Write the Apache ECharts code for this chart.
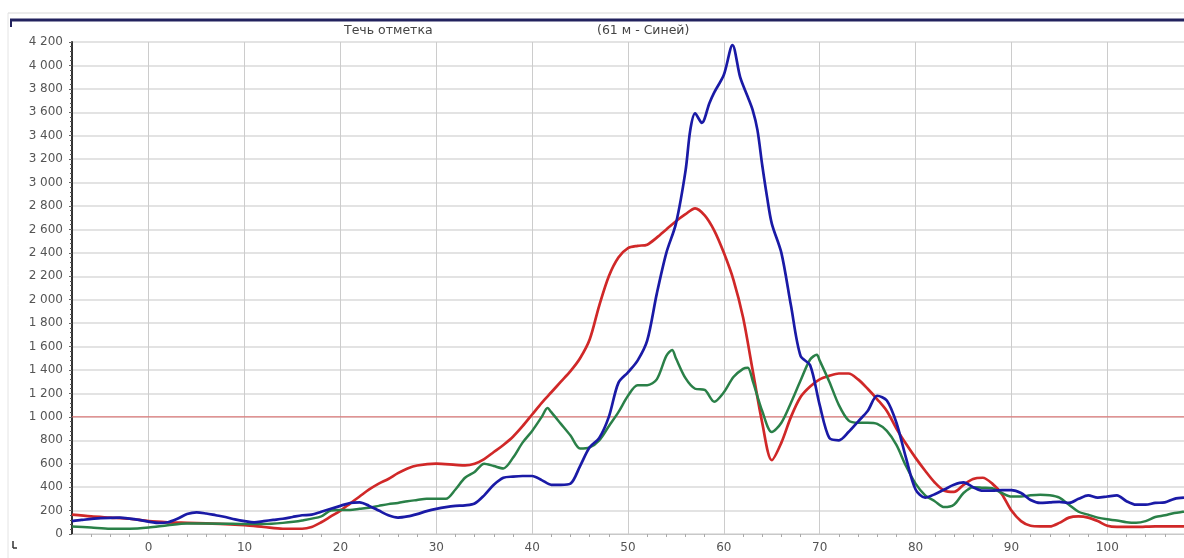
<!DOCTYPE html>
<html>
<head>
<meta charset="utf-8">
<script src="https://cdn.jsdelivr.net/npm/echarts@6/dist/echarts.min.js"></script>
<style>html,body{margin:0;padding:0;background:#fff}#c{width:1184px;height:558px}</style>
</head>
<body>
<div id="c"></div>
<script>
const titleLeft = 'Течь отметка';
const titleRight = '(61 м - Синей)';
const thresholdValue = 1000;
const xRange = [-8, 108];

const redX = [-8,-6,-4,-2,0,2,4,6,8,10,12,14,16,17,18,19,20,21,22,23,24,25,26,27,28,30,32,33,34,35,36,37,38,39,40,41,42,43,44,45,46,47,48,49,50,51,52,53,54,55,56,57,58,59,60,61,62,63,64,65,66,67,68,69,70,71,72,73,74,75,76,77,78,79,80,81,82,83,84,85,86,87,88,89,90,91,92,93,94,95,96,97,98,99,100,101,103,105,108];
const redY = [165,150,140,130,110,100,95,90,85,75,60,45,45,60,100,150,200,260,320,380,430,470,520,560,585,600,590,585,600,640,700,760,830,920,1020,1120,1210,1300,1390,1500,1660,1950,2200,2360,2440,2460,2470,2530,2600,2670,2730,2780,2720,2590,2400,2170,1850,1400,950,630,780,1000,1170,1260,1320,1350,1370,1370,1320,1240,1150,1050,900,770,650,540,440,370,360,420,470,480,430,340,200,110,70,65,65,95,140,150,140,110,70,60,60,65,65];

const blueX = [-8,-7,-5,-3,-1,1,2,3,4,5,6,7,8,9,10,11,12,13,14,15,16,17,18,19,20,21,22,23,24,25,26,27,28,29,30,31,32,33,34,35,36,37,38,39,40,41,42,43,44,45,46,47,48,49,50,51,52,53,54,55,56,56.5,57,57.7,58.5,59,60,60.9,61.7,62.5,63,63.5,64,64.5,65,66,67,68,69,70,71,72,73,74,75,76,77,78,79,80,81,82,83,84,85,86,87,88,89,90,91,92,93,94,95,96,97,98,99,100,101,102,103,104,105,106,107,108];
const blueY = [110,120,135,140,120,95,100,130,170,185,175,160,145,125,110,100,110,120,130,145,160,165,190,215,240,265,270,240,200,160,140,150,170,195,215,230,240,245,260,330,420,480,490,495,495,460,420,420,430,580,740,820,1000,1290,1380,1480,1650,2050,2400,2650,3100,3450,3590,3510,3680,3770,3920,4174,3900,3730,3620,3450,3150,2880,2650,2400,1950,1520,1440,1100,820,800,870,960,1050,1180,1140,950,650,380,310,340,380,420,440,400,370,370,375,375,350,290,265,270,275,265,300,330,310,320,330,280,250,250,265,270,300,310];

const greenX = [-8,-6,-4,-2,0,2,4,6,8,10,12,14,16,18,19,20,21,22,23,24,25,26,27,28,29,30,31,32,33,34,35,36,37,38,39,40,41,41.6,42,43,44,45,46,47,48,49,50,51,52,53,54,54.6,55,56,57,58,59,60,61,62,62.5,63,64,65,66,67,68,69,69.7,70,71,72,73,74,75,76,77,78,79,80,81,82,83,84,85,86,87,88,89,90,91,92,93,94,95,96,97,98,99,100,101,102,103,104,105,106,107,108];
const greenY = [65,55,45,45,55,75,90,90,88,85,85,95,115,150,200,205,205,215,225,240,255,265,280,290,300,300,300,380,480,530,600,580,560,650,780,880,1000,1075,1040,940,840,730,740,800,920,1040,1180,1270,1270,1320,1520,1570,1500,1330,1240,1230,1130,1210,1340,1410,1420,1310,1050,870,950,1120,1310,1490,1530,1480,1300,1100,970,950,950,940,880,760,580,430,330,280,230,250,350,400,395,390,350,320,320,330,335,330,310,250,190,165,140,125,115,100,95,110,145,160,180,190];

function pairs(xs, ys) { return xs.map((x, i) => [x, ys[i]]); }
function fmt(v) { return String(v).replace(/\B(?=(\d{3})+(?!\d))/g, ' '); }

const chart = echarts.init(document.getElementById('c'), null, { renderer: 'canvas' });
chart.setOption({
  animation: false,
  backgroundColor: '#ffffff',
  textStyle: { fontFamily: 'DejaVu Sans' },
  grid: { left: 72, right: 0, top: 42, bottom: 24, containLabel: false },
  graphic: [
    { type: 'line', shape: { x1: 8, y1: 13, x2: 1184, y2: 13 }, style: { stroke: '#d8d8d8', lineWidth: 1 }, silent: true },
    { type: 'line', shape: { x1: 8, y1: 13, x2: 8, y2: 558 }, style: { stroke: '#e4e4e4', lineWidth: 1 }, silent: true },
    { type: 'line', shape: { x1: 10, y1: 20, x2: 1184, y2: 20 }, style: { stroke: '#22225e', lineWidth: 3 }, silent: true },
    { type: 'line', shape: { x1: 11, y1: 20, x2: 11, y2: 27 }, style: { stroke: '#22225e', lineWidth: 2 }, silent: true },
    { type: 'line', shape: { x1: 13, y1: 541, x2: 13, y2: 548 }, style: { stroke: '#333', lineWidth: 1.5 }, silent: true },
    { type: 'line', shape: { x1: 13, y1: 548, x2: 17, y2: 548 }, style: { stroke: '#333', lineWidth: 1.5 }, silent: true },
    { type: 'text', left: 344, top: 24, style: { text: titleLeft, font: '12.5px "DejaVu Sans"', fill: '#444' }, silent: true },
    { type: 'text', left: 597, top: 24, style: { text: titleRight, font: '12.5px "DejaVu Sans"', fill: '#444' }, silent: true }
  ],
  xAxis: {
    type: 'value',
    min: xRange[0],
    max: xRange[1],
    splitNumber: 12,
    axisLine: { show: true, onZero: false, lineStyle: { color: '#c8c8c8', width: 1 } },
    axisTick: { show: false },
    minorTick: { show: true, splitNumber: 5, length: 3, lineStyle: { color: '#aaa', width: 1 } },
    axisLabel: {
      color: '#555', fontSize: 12, margin: 8, showMinLabel: false, showMaxLabel: false,
      formatter: v => (Math.round(v) % 10 === 0 ? String(v) : '')
    },
    splitLine: { show: true, lineStyle: { color: '#cccccc', width: 1 } }
  },
  yAxis: {
    type: 'value',
    min: 0,
    max: 4200,
    interval: 200,
    axisLine: { show: true, onZero: false, lineStyle: { color: '#333', width: 2 } },
    axisTick: { show: true, length: 3, lineStyle: { color: '#666' } },
    minorTick: { show: true, splitNumber: 5, length: 2, lineStyle: { color: '#555' } },
    axisLabel: { color: '#555', fontSize: 12, margin: 9, formatter: v => fmt(v) },
    splitLine: { show: true, lineStyle: { color: '#e3e3e3', width: 2 } }
  },
  series: [
    {
      name: 'threshold', type: 'line', data: [[xRange[0], thresholdValue], [xRange[1], thresholdValue]],
      showSymbol: false, silent: true, lineStyle: { color: '#e06a6a', width: 1 }, itemStyle: { color: '#e06a6a' }, z: 2
    },
    {
      name: 'red', type: 'line', data: pairs(redX, redY), showSymbol: false, smooth: 0.3,
      lineStyle: { color: '#d02828', width: 2.7 }, itemStyle: { color: '#d02828' }, z: 3
    },
    {
      name: 'green', type: 'line', data: pairs(greenX, greenY), showSymbol: false, smooth: 0.3,
      lineStyle: { color: '#2a8048', width: 2.5 }, itemStyle: { color: '#2a8048' }, z: 4
    },
    {
      name: 'blue', type: 'line', data: pairs(blueX, blueY), showSymbol: false, smooth: 0.3,
      lineStyle: { color: '#1a1aa6', width: 2.7 }, itemStyle: { color: '#1a1aa6' }, z: 5
    }
  ]
});
</script>
</body>
</html>
